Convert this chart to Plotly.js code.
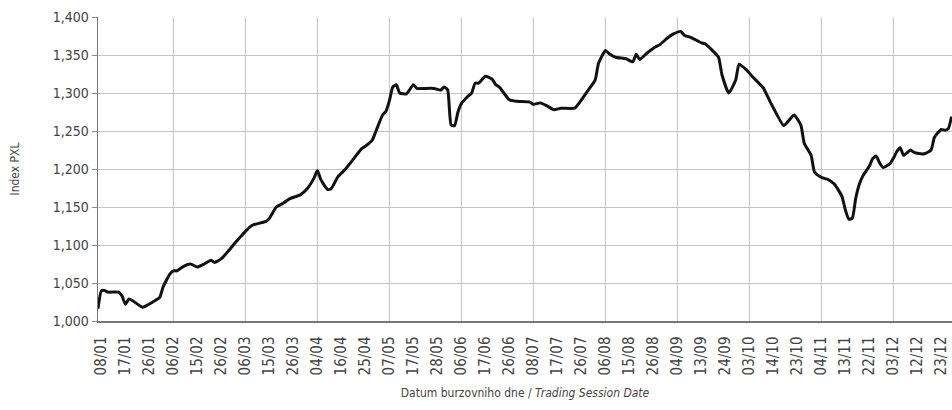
<!DOCTYPE html>
<html>
<head>
<meta charset="utf-8">
<script src="https://cdn.plot.ly/plotly-3.0.1.min.js"></script>
<style>html,body{margin:0;padding:0;background:#fff;}#chart{width:952px;height:410px;}</style>
</head>
<body>
<div id="chart"></div>
<script>
// Trading-session index (0 = first session shown) and PXL index values
const tradingDay = [0,1,2,3,6,7,8,9,10,13,14,16,18,19,21,22,23,25,27,29,31,33,34,36,38,40,41,43,45,49,50,52,54,56,59,61,63,64,65,67,68,70,72,74,75,77,78,80,81,83,84,85,86,87,88,90,92,93,95,98,100,101,102,103,104,105,106,108,109,110,111,113,115,116,117,120,122,126,127,129,131,133,135,139,141,143,145,146,148,149,151,154,156,157,158,160,162,164,166,168,170,171,173,176,177,179,181,182,184,186,187,189,191,194,196,200,201,203,205,206,208,209,211,213,214,215,217,218,219,220,221,222,223,225,226,227,228,229,231,232,233,234,235,237,238,240,241,243,244,246,247,248,249];
const pxl = [1016,1040,1040,1038,1038,1033,1022,1029,1027,1018,1020,1025,1031,1045,1062,1066,1066,1072,1075,1071,1075,1080,1077,1082,1092,1103,1108,1118,1126,1131,1135,1150,1155,1161,1166,1174,1188,1198,1186,1173,1174,1190,1199,1210,1216,1227,1230,1238,1249,1271,1276,1290,1308,1311,1300,1299,1311,1306,1306,1306,1304,1308,1304,1258,1257,1275,1286,1296,1300,1313,1313,1322,1318,1311,1308,1291,1289,1288,1285,1287,1283,1278,1280,1280,1291,1304,1317,1339,1356,1352,1347,1345,1341,1351,1344,1352,1359,1364,1372,1378,1381,1376,1373,1366,1365,1357,1347,1324,1300,1317,1338,1331,1321,1307,1289,1257,1261,1271,1258,1234,1218,1196,1189,1186,1183,1179,1164,1146,1134,1135,1161,1179,1190,1204,1214,1217,1208,1202,1207,1214,1223,1228,1218,1225,1222,1220,1220,1225,1242,1252,1251,1253,1269];

const tickLabels = ['08/01','17/01','26/01','06/02','15/02','26/02','06/03','15/03','26/03','04/04','16/04','25/04','07/05','17/05','28/05','06/06','17/06','26/06','08/07','17/07','26/07','06/08','15/08','26/08','04/09','13/09','24/09','03/10','14/10','23/10','04/11','13/11','22/11','03/12','12/12','23/12'];
const monthStartLabels = ['06/02','06/03','04/04','07/05','06/06','08/07','06/08','04/09','03/10','04/11','03/12'];

const tickDays = tickLabels.map((_, i) => 1 + 7 * i);
const gridDays = monthStartLabels.map(l => tickDays[tickLabels.indexOf(l)]);

const FONT = '"DejaVu Sans Condensed", "Liberation Sans Narrow", "DejaVu Sans", sans-serif';
const gridColor = '#c4c4c4';

const shapes = gridDays.map(d => ({
  type: 'line', xref: 'x', yref: 'paper', x0: d, x1: d, y0: 0, y1: 1,
  line: {color: gridColor, width: 1}, layer: 'below'
}));

const trace = {
  x: tradingDay, y: pxl, type: 'scatter', mode: 'lines',
  line: {color: '#111111', width: 3, shape: 'spline', smoothing: 0.5},
  hoverinfo: 'skip'
};

const layout = {
  width: 952, height: 410,
  margin: {l: 98, r: 0, t: 17, b: 89},
  paper_bgcolor: '#ffffff', plot_bgcolor: '#ffffff',
  showlegend: false,
  font: {family: FONT, color: '#444444', size: 14},
  shapes: shapes,
  xaxis: {
    range: [0, 249.1],
    tickmode: 'array', tickvals: tickDays, ticktext: tickLabels,
    tickangle: -90, tickfont: {family: FONT, size: 15, color: '#444'},
    showgrid: false, zeroline: false,
    showline: true, linecolor: '#777', linewidth: 1.5,
    ticks: 'outside', ticklen: 0, ticklabelstandoff: 8,
    title: {text: 'Datum burzovniho dne / <i>Trading Session Date</i>', font: {family: FONT, size: 12, color: '#444'}, standoff: 14}
  },
  yaxis: {
    range: [1000, 1400],
    tickmode: 'array', tickvals: [1000,1050,1100,1150,1200,1250,1300,1350,1400],
    tickformat: ',d',
    tickfont: {family: FONT, size: 14, color: '#444'},
    showgrid: true, gridcolor: gridColor, gridwidth: 1, zeroline: false,
    showline: true, linecolor: '#777', linewidth: 1.5,
    ticks: 'outside', ticklen: 5, tickcolor: '#888',
    title: {text: 'Index PXL', font: {family: FONT, size: 12, color: '#444'}, standoff: 30}
  }
};

Plotly.newPlot('chart', [trace], layout, {staticPlot: true, displayModeBar: false});
</script>
</body>
</html>
